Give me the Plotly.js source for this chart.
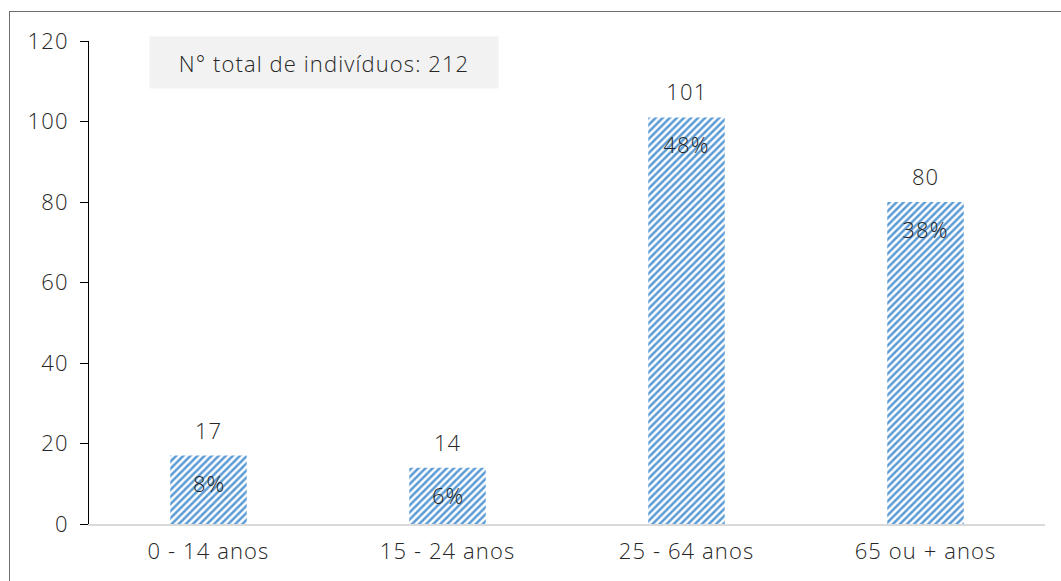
<!DOCTYPE html>
<html>
<head>
<meta charset="utf-8">
<script src="https://cdn.plot.ly/plotly-3.0.1.min.js"></script>
<style>
html,body{margin:0;padding:0;background:#fff;overflow:hidden;}
#chart{width:1061px;height:581px;}
#frame{position:absolute;left:9px;top:11px;width:1200px;height:800px;border:1.5px solid #6e6e6e;pointer-events:none;}
#chart svg text{letter-spacing:1.1px;}
</style>
</head>
<body>
<div id="chart"></div>
<div id="frame"></div>
<script>
const categories = ["0 - 14 anos", "15 - 24 anos", "25 - 64 anos", "65 ou + anos"];
const values = [17, 14, 101, 80];
const pctLabels = ["8%", "6%", "48%", "38%"];
const totalLabel = "N° total de indivíduos: 212";
const yTicks = [0, 20, 40, 60, 80, 100, 120];

const FONT = "'Open Sans', sans-serif";
const TXT = "#262626";
const FS = 22;

const annotations = [];
categories.forEach((c, i) => {
  annotations.push({x: c, y: values[i], xref: "x", yref: "y", text: String(values[i]),
    showarrow: false, yanchor: "bottom", yshift: 9,
    font: {family: FONT, size: FS, color: TXT, weight: 300}});
  annotations.push({x: c, y: values[i], xref: "x", yref: "y", text: pctLabels[i],
    showarrow: false, yanchor: "middle", yshift: -27,
    font: {family: FONT, size: FS, color: TXT, weight: 300}});
});
annotations.push({x: 0.063, y: 1.01, xref: "paper", yref: "paper", text: totalLabel,
  showarrow: false, xanchor: "left", yanchor: "top",
  bgcolor: "#f2f2f2", borderpad: 13, width: 322, height: 25,
  font: {family: FONT, size: FS, color: TXT, weight: 300}});

const trace = {
  type: "bar", x: categories, y: values, width: 0.32,
  marker: {color: "#ffffff", line: {width: 0},
    pattern: {shape: "/", fgcolor: "#5b9bd5", bgcolor: "#ffffff", size: 5, solidity: 0.5}},
  hoverinfo: "skip"
};

const layout = {
  width: 1061, height: 581,
  margin: {l: 89, r: 16, t: 41, b: 57},
  paper_bgcolor: "#ffffff", plot_bgcolor: "#ffffff",
  showlegend: false,
  font: {family: FONT, color: TXT, size: FS, weight: 300},
  xaxis: {type: "category", range: [-0.5, 3.5], showline: true, linecolor: "#d9d9d9", linewidth: 2,
    ticks: "", showgrid: false, zeroline: false, tickfont: {size: FS, color: TXT, weight: 300}, ticklabelstandoff: 7},
  yaxis: {range: [0, 120], tickvals: yTicks, showline: true, linecolor: "#000000", linewidth: 1,
    ticks: "outside", ticklen: 8, tickcolor: "#000000", showgrid: false, zeroline: false,
    tickfont: {size: FS, color: TXT, weight: 300}, ticklabelstandoff: 7},
  annotations: annotations
};

Plotly.newPlot("chart", [trace], layout, {displayModeBar: false, staticPlot: true});
</script>
</body>
</html>
